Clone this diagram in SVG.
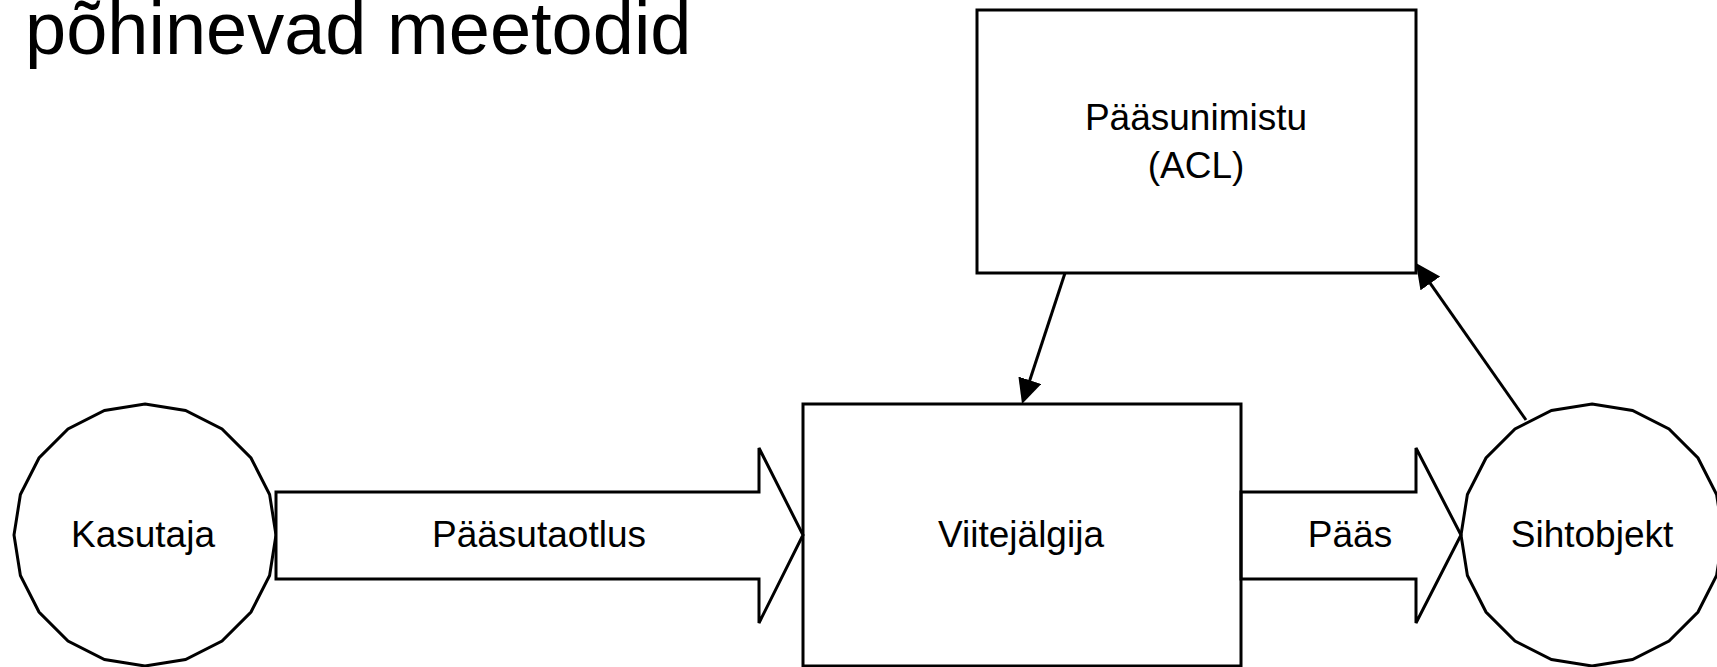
<svg xmlns="http://www.w3.org/2000/svg" width="1717" height="667" viewBox="0 0 1717 667">
  <style>
    .shape { fill: #ffffff; stroke: #000000; stroke-width: 3; stroke-linejoin: miter; }
    .lbl { font-family: "Liberation Sans", Arial, sans-serif; font-size: 37px; fill: #000000; text-anchor: middle; }
    .title { font-family: "Liberation Sans", Arial, sans-serif; font-size: 74px; fill: #000000; }
    .conn { fill: none; stroke: #000000; stroke-width: 3; }
  </style>
  <defs>
    <marker id="ah" markerUnits="userSpaceOnUse" markerWidth="26" markerHeight="26" viewBox="0 0 26 26" refX="19" refY="12" orient="auto">
      <path d="M0,0 L25,12 L0,24 Z" fill="#000000"/>
    </marker>
  </defs>
  <rect width="1717" height="667" fill="#ffffff"/>
  <text class="title" x="25" y="54">põhinevad meetodid</text>

  <g id="node-acl">
    <rect class="shape" x="977" y="10" width="439" height="263"/>
    <text class="lbl" x="1196" y="130">Pääsunimistu</text>
    <text class="lbl" x="1196" y="178">(ACL)</text>
  </g>

  <g id="node-viitejalgija">
    <rect class="shape" x="803" y="404" width="438" height="262"/>
    <text class="lbl" x="1021" y="547">Viitejälgija</text>
  </g>

  <g id="node-kasutaja">
    <polygon class="shape" points="145,404 185.5,410.4 222,429 251,458 269.6,494.5 276,535 269.6,575.5 251,612 222,641 185.5,659.6 145,666 104.5,659.6 68,641 39,612 20.4,575.5 14,535 20.4,494.5 39,458 68,429 104.5,410.4"/>
    <text class="lbl" x="143" y="547">Kasutaja</text>
  </g>

  <g id="node-sihtobjekt">
    <polygon class="shape" points="1592,404 1632.5,410.4 1669,429 1698,458 1716.6,494.5 1723,535 1716.6,575.5 1698,612 1669,641 1632.5,659.6 1592,666 1551.5,659.6 1515,641 1486,612 1467.4,575.5 1461,535 1467.4,494.5 1486,458 1515,429 1551.5,410.4"/>
    <text class="lbl" x="1592" y="547">Sihtobjekt</text>
  </g>

  <g id="connectors">
    <g id="arrow-paasutaotlus">
      <polygon class="shape" points="276,492 759,492 759,448 803,535 759,623 759,579 276,579"/>
      <text class="lbl" x="539" y="547">Pääsutaotlus</text>
    </g>
    <g id="arrow-paas">
      <polygon class="shape" fill-opacity="0" points="1241,492 1416,492 1416,448 1461,535 1416,623 1416,579 1241,579"/>
      <text class="lbl" x="1350" y="547">Pääs</text>
    </g>
    <line class="conn" x1="1065" y1="273" x2="1023.9" y2="398.3" marker-end="url(#ah)"/>
    <line class="conn" x1="1526" y1="420" x2="1419.4" y2="267.9" marker-end="url(#ah)"/>
  </g>
</svg>
